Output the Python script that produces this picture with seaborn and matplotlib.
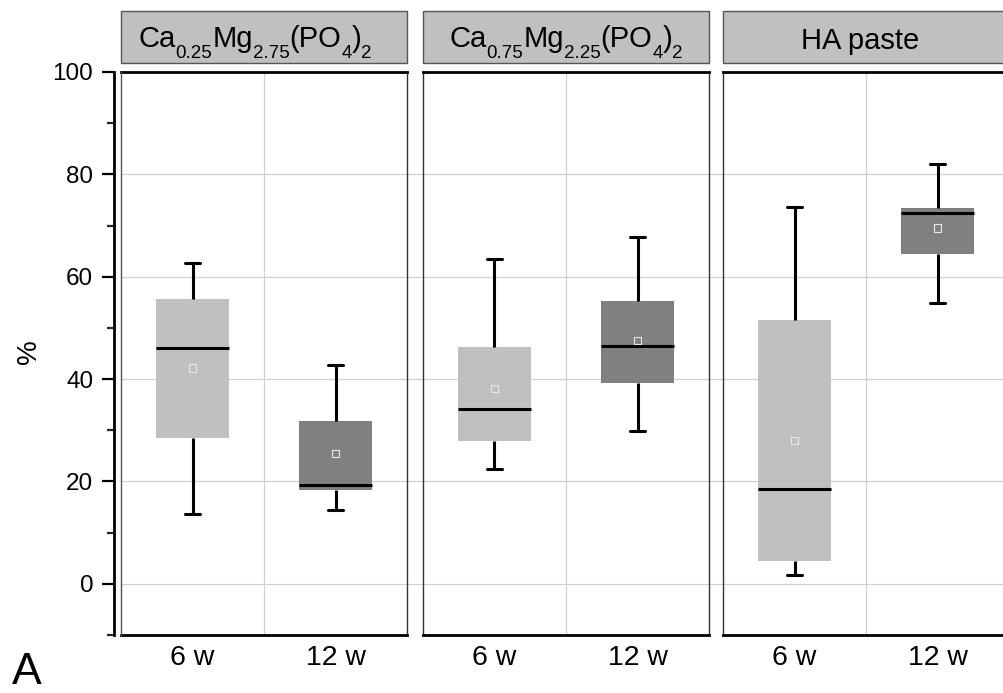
import numpy as np
import pandas as pd
import matplotlib
matplotlib.use("Agg")
import matplotlib.pyplot as plt
from matplotlib.patches import Rectangle
from matplotlib.ticker import FixedLocator
from matplotlib.transforms import IdentityTransform
import seaborn as sns

# ---------------- data ----------------
# header titles as (text, is_subscript) pieces
groups = [
    [("Ca", False), ("0.25", True), ("Mg", False), ("2.75", True),
     ("(PO", False), ("4", True), (")", False), ("2", True)],
    [("Ca", False), ("0.75", True), ("Mg", False), ("2.25", True),
     ("(PO", False), ("4", True), (")", False), ("2", True)],
    [("HA paste", False)],
]
weeks = ["6 w", "12 w"]
# each entry: [6 w, 12 w]
mins    = [[13.7, 14.5], [22.4, 29.8], [1.8, 54.9]]
q1s     = [[28.4, 18.4], [28.0, 39.2], [4.5, 64.4]]
medians = [[46.0, 19.3], [34.2, 46.5], [18.5, 72.4]]
q3s     = [[55.7, 31.8], [46.2, 55.2], [51.5, 73.4]]
maxs    = [[62.7, 42.7], [63.5, 67.8], [73.6, 82.0]]
means   = [[42.2, 25.4], [38.1, 47.6], [28.0, 69.5]]
yticks_major = [0, 20, 40, 60, 80, 100]
yticks_minor = [-10, 10, 30, 50, 70, 90]

box_colors = ["#c0c0c0", "#808080"]

# ---------------- style ----------------
sns.set_theme(style="ticks")
plt.rcParams["font.family"] = ["Liberation Sans", "DejaVu Sans"]

W, H = 1004, 693
fig = plt.figure(figsize=(W / 100, H / 100), dpi=100)
renderer = fig.canvas.get_renderer()

lefts = [121, 423, 723]
pw = 286
top_px, bot_px = 72, 635
ph = bot_px - top_px
gap = 16
title_baselines = [47, 47, 49]
title_shift = [-9, 0, -6]
main_fs, sub_fs, sub_drop = 21, 13.5, 11.5


def draw_title(pieces, cx, base_y):
    items = []
    for s, is_sub in pieces:
        t = fig.text(0, 0, s, fontsize=sub_fs if is_sub else main_fs,
                     ha="left", va="baseline", color="black",
                     transform=IdentityTransform())
        w = t.get_window_extent(renderer).width
        items.append((t, w, is_sub))
    total = sum(w for _, w, _ in items)
    x = cx - total / 2
    for t, w, is_sub in items:
        y = H - base_y - (sub_drop if is_sub else 0)
        t.set_position((x, y))
        x += w


for i, pieces in enumerate(groups):
    ax = fig.add_axes([lefts[i] / W, (H - bot_px) / H, pw / W, ph / H])
    rows = []
    for j, wk in enumerate(weeks):
        for v in (mins[i][j], q1s[i][j], medians[i][j], q3s[i][j], maxs[i][j]):
            rows.append({"week": wk, "value": v})
    df = pd.DataFrame(rows)

    sns.boxplot(data=df, x="week", y="value", hue="week", order=weeks,
                hue_order=weeks, palette=box_colors, width=0.51,
                whis=np.inf, linecolor="black", linewidth=2.2, legend=False,
                capwidths=0.11, ax=ax, zorder=3)
    for p in ax.patches:
        p.set_edgecolor("none")

    ax.scatter(np.arange(len(weeks)), means[i], marker="s", s=28,
               facecolors="none", edgecolors="#e8e8e8", linewidths=0.8,
               zorder=6)

    ax.set_xlim(-0.5, 1.5)
    ax.set_ylim(-10, 100)
    ax.set_xlabel("")
    ax.set_ylabel("")

    # grid
    ext = 1 + gap / pw if i < len(groups) - 1 else 1.05
    for yv in yticks_major[:-1]:
        ax.axhline(yv, xmin=0, xmax=ext, color="#d0d0d0", lw=0.9,
                   zorder=0, clip_on=False)
    ax.axvline(0.5, color="#d0d0d0", lw=0.9, zorder=0)

    # spines
    ax.spines["top"].set_visible(True)
    ax.spines["right"].set_visible(True)
    ax.spines["top"].set_linewidth(2)
    ax.spines["top"].set_color("black")
    ax.spines["bottom"].set_linewidth(2)
    ax.spines["bottom"].set_color("black")
    ax.spines["right"].set_linewidth(1)
    ax.spines["right"].set_color("#333333")

    ax.tick_params(axis="x", length=0, pad=7, labelsize=20.5, colors="black")
    if i == 0:
        ax.spines["left"].set_position(("outward", 5))
        ax.spines["left"].set_linewidth(2)
        ax.spines["left"].set_color("black")
        ax.plot([0, 0], [0, 1], transform=ax.transAxes, color="#555555",
                lw=1, clip_on=False, zorder=5)
        ax.yaxis.set_major_locator(FixedLocator(yticks_major))
        ax.yaxis.set_minor_locator(FixedLocator(yticks_minor))
        ax.tick_params(axis="y", which="major", left=True, length=9,
                       width=1.6, direction="out", labelsize=17.5, pad=6,
                       colors="black")
        ax.tick_params(axis="y", which="minor", left=True, length=5,
                       width=1.6, direction="out")
    else:
        ax.spines["left"].set_linewidth(1)
        ax.spines["left"].set_color("#333333")
        ax.tick_params(axis="y", which="both", left=False, labelleft=False)

    # header strip
    ax.add_patch(Rectangle((0, 1 + 9 / ph), 1, 52 / ph, transform=ax.transAxes,
                           facecolor="#c0c0c0", edgecolor="#555555", lw=1,
                           clip_on=False))
    draw_title(pieces, lefts[i] + pw / 2 + title_shift[i], title_baselines[i])

fig.text(29 / W, 1 - 352 / H, "%", rotation=90, ha="center", va="center",
         fontsize=20, color="black")
fig.text(12 / W, 9 / H, "A", ha="left", va="baseline", fontsize=32,
         color="black")

fig.savefig("out.png", dpi=100)
